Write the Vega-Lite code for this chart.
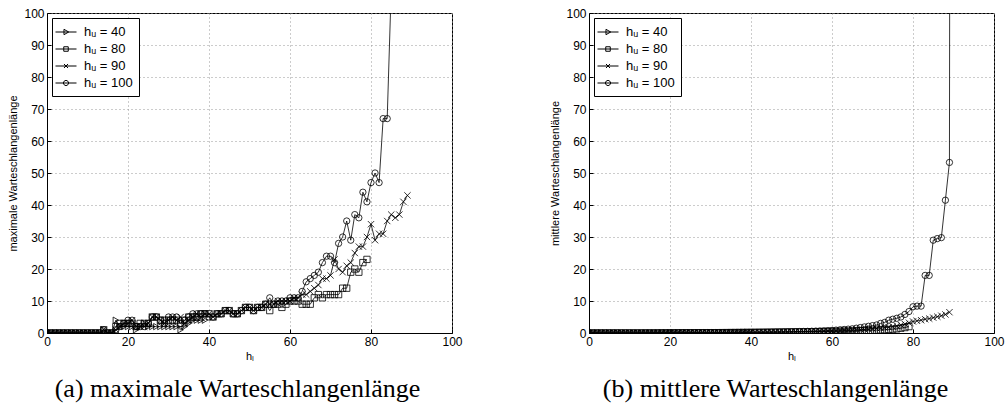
{
"$schema":"https://vega.github.io/schema/vega-lite/v6.json",
"padding":{"left":7,"top":6,"right":0,"bottom":5},
"background":"white",
"config":{"font":"Liberation Sans","view":{"stroke":"black","strokeWidth":1},
 "axis":{"grid":true,"gridColor":"#999","gridDash":[1,3],"gridOpacity":1,"domainColor":"black","tickColor":"black","labelColor":"black","titleColor":"black","labelFontSize":12,"titleFontSize":11,"titleFontWeight":"normal","tickSize":-4,"labelPadding":7,"labelFlush":false,"labelOverlap":false},
 "legend":{"labelFontSize":13,"labelColor":"black"},
 "title":{"font":"Liberation Serif","fontSize":26,"fontWeight":"normal","color":"black","orient":"bottom","anchor":"middle","offset":15}},
"spacing":86,
"datasets":{
"maxq":[
{"s":"40","x":0,"y":0},{"s":"40","x":1,"y":0},{"s":"40","x":2,"y":0},{"s":"40","x":3,"y":0},{"s":"40","x":4,"y":0},{"s":"40","x":5,"y":0},{"s":"40","x":6,"y":0},{"s":"40","x":7,"y":0},{"s":"40","x":8,"y":0},{"s":"40","x":9,"y":0},{"s":"40","x":10,"y":0},{"s":"40","x":11,"y":0},{"s":"40","x":12,"y":0},{"s":"40","x":13,"y":0},{"s":"40","x":14,"y":1},{"s":"40","x":15,"y":0},{"s":"40","x":16,"y":0},{"s":"40","x":17,"y":4},{"s":"40","x":18,"y":2},{"s":"40","x":19,"y":2},{"s":"40","x":20,"y":2},{"s":"40","x":21,"y":2},{"s":"40","x":22,"y":1},{"s":"40","x":23,"y":2},{"s":"40","x":24,"y":3},{"s":"40","x":25,"y":2},{"s":"40","x":26,"y":2},{"s":"40","x":27,"y":2},{"s":"40","x":28,"y":2},{"s":"40","x":29,"y":2},{"s":"40","x":30,"y":2},{"s":"40","x":31,"y":2},{"s":"40","x":32,"y":2},{"s":"40","x":33,"y":1},{"s":"40","x":34,"y":2},{"s":"40","x":35,"y":3},{"s":"40","x":36,"y":4},{"s":"40","x":37,"y":4},{"s":"40","x":38,"y":4},{"s":"40","x":39,"y":4},
{"s":"80","x":0,"y":0},{"s":"80","x":1,"y":0},{"s":"80","x":2,"y":0},{"s":"80","x":3,"y":0},{"s":"80","x":4,"y":0},{"s":"80","x":5,"y":0},{"s":"80","x":6,"y":0},{"s":"80","x":7,"y":0},{"s":"80","x":8,"y":0},{"s":"80","x":9,"y":0},{"s":"80","x":10,"y":0},{"s":"80","x":11,"y":0},{"s":"80","x":12,"y":0},{"s":"80","x":13,"y":0},{"s":"80","x":14,"y":1},{"s":"80","x":15,"y":0},{"s":"80","x":16,"y":0},{"s":"80","x":17,"y":2},{"s":"80","x":18,"y":3},{"s":"80","x":19,"y":3},{"s":"80","x":20,"y":3},{"s":"80","x":21,"y":3},{"s":"80","x":22,"y":2},{"s":"80","x":23,"y":3},{"s":"80","x":24,"y":3},{"s":"80","x":25,"y":3},{"s":"80","x":26,"y":5},{"s":"80","x":27,"y":5},{"s":"80","x":28,"y":4},{"s":"80","x":29,"y":4},{"s":"80","x":30,"y":4},{"s":"80","x":31,"y":4},{"s":"80","x":32,"y":4},{"s":"80","x":33,"y":3},{"s":"80","x":34,"y":4},{"s":"80","x":35,"y":5},{"s":"80","x":36,"y":5},{"s":"80","x":37,"y":5},{"s":"80","x":38,"y":6},{"s":"80","x":39,"y":6},{"s":"80","x":40,"y":6},{"s":"80","x":41,"y":5},{"s":"80","x":42,"y":6},{"s":"80","x":43,"y":6},{"s":"80","x":44,"y":7},{"s":"80","x":45,"y":7},{"s":"80","x":46,"y":6},{"s":"80","x":47,"y":6},{"s":"80","x":48,"y":7},{"s":"80","x":49,"y":8},{"s":"80","x":50,"y":8},{"s":"80","x":51,"y":7},{"s":"80","x":52,"y":8},{"s":"80","x":53,"y":8},{"s":"80","x":54,"y":9},{"s":"80","x":55,"y":7},{"s":"80","x":56,"y":9},{"s":"80","x":57,"y":9},{"s":"80","x":58,"y":8},{"s":"80","x":59,"y":9},{"s":"80","x":60,"y":10},{"s":"80","x":61,"y":10},{"s":"80","x":62,"y":10},{"s":"80","x":63,"y":9},{"s":"80","x":64,"y":9},{"s":"80","x":65,"y":9},{"s":"80","x":66,"y":11},{"s":"80","x":67,"y":12},{"s":"80","x":68,"y":11},{"s":"80","x":69,"y":12},{"s":"80","x":70,"y":12},{"s":"80","x":71,"y":12},{"s":"80","x":72,"y":12},{"s":"80","x":73,"y":14},{"s":"80","x":74,"y":14},{"s":"80","x":75,"y":19},{"s":"80","x":76,"y":20},{"s":"80","x":77,"y":19},{"s":"80","x":78,"y":22},{"s":"80","x":79,"y":23},
{"s":"90","x":0,"y":0},{"s":"90","x":1,"y":0},{"s":"90","x":2,"y":0},{"s":"90","x":3,"y":0},{"s":"90","x":4,"y":0},{"s":"90","x":5,"y":0},{"s":"90","x":6,"y":0},{"s":"90","x":7,"y":0},{"s":"90","x":8,"y":0},{"s":"90","x":9,"y":0},{"s":"90","x":10,"y":0},{"s":"90","x":11,"y":0},{"s":"90","x":12,"y":0},{"s":"90","x":13,"y":0},{"s":"90","x":14,"y":1},{"s":"90","x":15,"y":0},{"s":"90","x":16,"y":0},{"s":"90","x":17,"y":1},{"s":"90","x":18,"y":2},{"s":"90","x":19,"y":3},{"s":"90","x":20,"y":3},{"s":"90","x":21,"y":4},{"s":"90","x":22,"y":2},{"s":"90","x":23,"y":2},{"s":"90","x":24,"y":2},{"s":"90","x":25,"y":3},{"s":"90","x":26,"y":5},{"s":"90","x":27,"y":5},{"s":"90","x":28,"y":4},{"s":"90","x":29,"y":3},{"s":"90","x":30,"y":4},{"s":"90","x":31,"y":5},{"s":"90","x":32,"y":4},{"s":"90","x":33,"y":5},{"s":"90","x":34,"y":3},{"s":"90","x":35,"y":4},{"s":"90","x":36,"y":5},{"s":"90","x":37,"y":6},{"s":"90","x":38,"y":5},{"s":"90","x":39,"y":6},{"s":"90","x":40,"y":6},{"s":"90","x":41,"y":5},{"s":"90","x":42,"y":6},{"s":"90","x":43,"y":6},{"s":"90","x":44,"y":7},{"s":"90","x":45,"y":7},{"s":"90","x":46,"y":6},{"s":"90","x":47,"y":6},{"s":"90","x":48,"y":7},{"s":"90","x":49,"y":8},{"s":"90","x":50,"y":8},{"s":"90","x":51,"y":7},{"s":"90","x":52,"y":8},{"s":"90","x":53,"y":8},{"s":"90","x":54,"y":9},{"s":"90","x":55,"y":9},{"s":"90","x":56,"y":9},{"s":"90","x":57,"y":10},{"s":"90","x":58,"y":10},{"s":"90","x":59,"y":10},{"s":"90","x":60,"y":10},{"s":"90","x":61,"y":11},{"s":"90","x":62,"y":11},{"s":"90","x":63,"y":12},{"s":"90","x":64,"y":12},{"s":"90","x":65,"y":13},{"s":"90","x":66,"y":14},{"s":"90","x":67,"y":15},{"s":"90","x":68,"y":17},{"s":"90","x":69,"y":17},{"s":"90","x":70,"y":18},{"s":"90","x":71,"y":23},{"s":"90","x":72,"y":20},{"s":"90","x":73,"y":19},{"s":"90","x":74,"y":21},{"s":"90","x":75,"y":22},{"s":"90","x":76,"y":25},{"s":"90","x":77,"y":27},{"s":"90","x":78,"y":27},{"s":"90","x":79,"y":30},{"s":"90","x":80,"y":34},{"s":"90","x":81,"y":29},{"s":"90","x":82,"y":31},{"s":"90","x":83,"y":31},{"s":"90","x":84,"y":35},{"s":"90","x":85,"y":37},{"s":"90","x":86,"y":36},{"s":"90","x":87,"y":37},{"s":"90","x":88,"y":41},{"s":"90","x":89,"y":43},
{"s":"100","x":0,"y":0},{"s":"100","x":1,"y":0},{"s":"100","x":2,"y":0},{"s":"100","x":3,"y":0},{"s":"100","x":4,"y":0},{"s":"100","x":5,"y":0},{"s":"100","x":6,"y":0},{"s":"100","x":7,"y":0},{"s":"100","x":8,"y":0},{"s":"100","x":9,"y":0},{"s":"100","x":10,"y":0},{"s":"100","x":11,"y":0},{"s":"100","x":12,"y":0},{"s":"100","x":13,"y":0},{"s":"100","x":14,"y":1},{"s":"100","x":15,"y":0},{"s":"100","x":16,"y":0},{"s":"100","x":17,"y":1},{"s":"100","x":18,"y":2},{"s":"100","x":19,"y":3},{"s":"100","x":20,"y":4},{"s":"100","x":21,"y":4},{"s":"100","x":22,"y":2},{"s":"100","x":23,"y":2},{"s":"100","x":24,"y":2},{"s":"100","x":25,"y":3},{"s":"100","x":26,"y":5},{"s":"100","x":27,"y":5},{"s":"100","x":28,"y":4},{"s":"100","x":29,"y":3},{"s":"100","x":30,"y":5},{"s":"100","x":31,"y":5},{"s":"100","x":32,"y":5},{"s":"100","x":33,"y":3},{"s":"100","x":34,"y":4},{"s":"100","x":35,"y":5},{"s":"100","x":36,"y":6},{"s":"100","x":37,"y":6},{"s":"100","x":38,"y":6},{"s":"100","x":39,"y":6},{"s":"100","x":40,"y":5},{"s":"100","x":41,"y":5},{"s":"100","x":42,"y":6},{"s":"100","x":43,"y":6},{"s":"100","x":44,"y":7},{"s":"100","x":45,"y":7},{"s":"100","x":46,"y":6},{"s":"100","x":47,"y":6},{"s":"100","x":48,"y":7},{"s":"100","x":49,"y":8},{"s":"100","x":50,"y":8},{"s":"100","x":51,"y":7},{"s":"100","x":52,"y":8},{"s":"100","x":53,"y":8},{"s":"100","x":54,"y":9},{"s":"100","x":55,"y":11},{"s":"100","x":56,"y":9},{"s":"100","x":57,"y":10},{"s":"100","x":58,"y":10},{"s":"100","x":59,"y":10},{"s":"100","x":60,"y":11},{"s":"100","x":61,"y":11},{"s":"100","x":62,"y":11},{"s":"100","x":63,"y":13},{"s":"100","x":64,"y":16},{"s":"100","x":65,"y":17},{"s":"100","x":66,"y":18},{"s":"100","x":67,"y":19},{"s":"100","x":68,"y":22},{"s":"100","x":69,"y":24},{"s":"100","x":70,"y":24},{"s":"100","x":71,"y":22},{"s":"100","x":72,"y":28},{"s":"100","x":73,"y":30},{"s":"100","x":74,"y":35},{"s":"100","x":75,"y":29},{"s":"100","x":76,"y":37},{"s":"100","x":77,"y":36},{"s":"100","x":78,"y":44},{"s":"100","x":79,"y":41},{"s":"100","x":80,"y":47},{"s":"100","x":81,"y":50},{"s":"100","x":82,"y":47},{"s":"100","x":83,"y":67},{"s":"100","x":84,"y":67},{"s":"100","x":85,"y":108}
],
"meanq":[
{"s":"40","x":0,"y":0},{"s":"40","x":1,"y":0},{"s":"40","x":2,"y":0},{"s":"40","x":3,"y":0},{"s":"40","x":4,"y":0},{"s":"40","x":5,"y":0},{"s":"40","x":6,"y":0},{"s":"40","x":7,"y":0},{"s":"40","x":8,"y":0},{"s":"40","x":9,"y":0},{"s":"40","x":10,"y":0},{"s":"40","x":11,"y":0},{"s":"40","x":12,"y":0},{"s":"40","x":13,"y":0},{"s":"40","x":14,"y":0.01},{"s":"40","x":15,"y":0.01},{"s":"40","x":16,"y":0.01},{"s":"40","x":17,"y":0.02},{"s":"40","x":18,"y":0.03},{"s":"40","x":19,"y":0.03},{"s":"40","x":20,"y":0.04},{"s":"40","x":21,"y":0.04},{"s":"40","x":22,"y":0.05},{"s":"40","x":23,"y":0.05},{"s":"40","x":24,"y":0.06},{"s":"40","x":25,"y":0.06},{"s":"40","x":26,"y":0.07},{"s":"40","x":27,"y":0.08},{"s":"40","x":28,"y":0.08},{"s":"40","x":29,"y":0.09},{"s":"40","x":30,"y":0.1},{"s":"40","x":31,"y":0.1},{"s":"40","x":32,"y":0.11},{"s":"40","x":33,"y":0.12},{"s":"40","x":34,"y":0.13},{"s":"40","x":35,"y":0.14},{"s":"40","x":36,"y":0.15},{"s":"40","x":37,"y":0.16},{"s":"40","x":38,"y":0.18},{"s":"40","x":39,"y":0.2},
{"s":"80","x":0,"y":0},{"s":"80","x":1,"y":0},{"s":"80","x":2,"y":0},{"s":"80","x":3,"y":0},{"s":"80","x":4,"y":0},{"s":"80","x":5,"y":0},{"s":"80","x":6,"y":0},{"s":"80","x":7,"y":0},{"s":"80","x":8,"y":0},{"s":"80","x":9,"y":0},{"s":"80","x":10,"y":0},{"s":"80","x":11,"y":0},{"s":"80","x":12,"y":0},{"s":"80","x":13,"y":0},{"s":"80","x":14,"y":0.01},{"s":"80","x":15,"y":0.01},{"s":"80","x":16,"y":0.01},{"s":"80","x":17,"y":0.02},{"s":"80","x":18,"y":0.03},{"s":"80","x":19,"y":0.03},{"s":"80","x":20,"y":0.04},{"s":"80","x":21,"y":0.04},{"s":"80","x":22,"y":0.05},{"s":"80","x":23,"y":0.05},{"s":"80","x":24,"y":0.06},{"s":"80","x":25,"y":0.06},{"s":"80","x":26,"y":0.07},{"s":"80","x":27,"y":0.08},{"s":"80","x":28,"y":0.08},{"s":"80","x":29,"y":0.09},{"s":"80","x":30,"y":0.1},{"s":"80","x":31,"y":0.1},{"s":"80","x":32,"y":0.11},{"s":"80","x":33,"y":0.12},{"s":"80","x":34,"y":0.13},{"s":"80","x":35,"y":0.14},{"s":"80","x":36,"y":0.15},{"s":"80","x":37,"y":0.16},{"s":"80","x":38,"y":0.17},{"s":"80","x":39,"y":0.18},{"s":"80","x":40,"y":0.19},{"s":"80","x":41,"y":0.2},{"s":"80","x":42,"y":0.21},{"s":"80","x":43,"y":0.22},{"s":"80","x":44,"y":0.23},{"s":"80","x":45,"y":0.24},{"s":"80","x":46,"y":0.26},{"s":"80","x":47,"y":0.27},{"s":"80","x":48,"y":0.28},{"s":"80","x":49,"y":0.3},{"s":"80","x":50,"y":0.31},{"s":"80","x":51,"y":0.33},{"s":"80","x":52,"y":0.34},{"s":"80","x":53,"y":0.36},{"s":"80","x":54,"y":0.38},{"s":"80","x":55,"y":0.4},{"s":"80","x":56,"y":0.42},{"s":"80","x":57,"y":0.44},{"s":"80","x":58,"y":0.46},{"s":"80","x":59,"y":0.48},{"s":"80","x":60,"y":0.5},{"s":"80","x":61,"y":0.52},{"s":"80","x":62,"y":0.55},{"s":"80","x":63,"y":0.58},{"s":"80","x":64,"y":0.6},{"s":"80","x":65,"y":0.65},{"s":"80","x":66,"y":0.68},{"s":"80","x":67,"y":0.72},{"s":"80","x":68,"y":0.76},{"s":"80","x":69,"y":0.8},{"s":"80","x":70,"y":0.85},{"s":"80","x":71,"y":0.9},{"s":"80","x":72,"y":0.95},{"s":"80","x":73,"y":1.0},{"s":"80","x":74,"y":1.1},{"s":"80","x":75,"y":1.2},{"s":"80","x":76,"y":1.3},{"s":"80","x":77,"y":1.5},{"s":"80","x":78,"y":1.7},{"s":"80","x":79,"y":2.0},
{"s":"90","x":0,"y":0},{"s":"90","x":1,"y":0},{"s":"90","x":2,"y":0},{"s":"90","x":3,"y":0},{"s":"90","x":4,"y":0},{"s":"90","x":5,"y":0},{"s":"90","x":6,"y":0},{"s":"90","x":7,"y":0},{"s":"90","x":8,"y":0},{"s":"90","x":9,"y":0},{"s":"90","x":10,"y":0},{"s":"90","x":11,"y":0},{"s":"90","x":12,"y":0},{"s":"90","x":13,"y":0},{"s":"90","x":14,"y":0.01},{"s":"90","x":15,"y":0.01},{"s":"90","x":16,"y":0.01},{"s":"90","x":17,"y":0.02},{"s":"90","x":18,"y":0.03},{"s":"90","x":19,"y":0.03},{"s":"90","x":20,"y":0.04},{"s":"90","x":21,"y":0.04},{"s":"90","x":22,"y":0.05},{"s":"90","x":23,"y":0.05},{"s":"90","x":24,"y":0.06},{"s":"90","x":25,"y":0.06},{"s":"90","x":26,"y":0.07},{"s":"90","x":27,"y":0.08},{"s":"90","x":28,"y":0.08},{"s":"90","x":29,"y":0.09},{"s":"90","x":30,"y":0.1},{"s":"90","x":31,"y":0.1},{"s":"90","x":32,"y":0.11},{"s":"90","x":33,"y":0.12},{"s":"90","x":34,"y":0.13},{"s":"90","x":35,"y":0.14},{"s":"90","x":36,"y":0.15},{"s":"90","x":37,"y":0.16},{"s":"90","x":38,"y":0.17},{"s":"90","x":39,"y":0.19},{"s":"90","x":40,"y":0.2},{"s":"90","x":41,"y":0.21},{"s":"90","x":42,"y":0.22},{"s":"90","x":43,"y":0.23},{"s":"90","x":44,"y":0.25},{"s":"90","x":45,"y":0.26},{"s":"90","x":46,"y":0.28},{"s":"90","x":47,"y":0.29},{"s":"90","x":48,"y":0.31},{"s":"90","x":49,"y":0.33},{"s":"90","x":50,"y":0.35},{"s":"90","x":51,"y":0.37},{"s":"90","x":52,"y":0.39},{"s":"90","x":53,"y":0.41},{"s":"90","x":54,"y":0.43},{"s":"90","x":55,"y":0.45},{"s":"90","x":56,"y":0.48},{"s":"90","x":57,"y":0.51},{"s":"90","x":58,"y":0.54},{"s":"90","x":59,"y":0.57},{"s":"90","x":60,"y":0.6},{"s":"90","x":61,"y":0.65},{"s":"90","x":62,"y":0.7},{"s":"90","x":63,"y":0.75},{"s":"90","x":64,"y":0.8},{"s":"90","x":65,"y":0.88},{"s":"90","x":66,"y":0.95},{"s":"90","x":67,"y":1.02},{"s":"90","x":68,"y":1.1},{"s":"90","x":69,"y":1.2},{"s":"90","x":70,"y":1.3},{"s":"90","x":71,"y":1.4},{"s":"90","x":72,"y":1.5},{"s":"90","x":73,"y":1.65},{"s":"90","x":74,"y":1.8},{"s":"90","x":75,"y":2.0},{"s":"90","x":76,"y":2.2},{"s":"90","x":77,"y":2.5},{"s":"90","x":78,"y":2.8},{"s":"90","x":79,"y":3.2},{"s":"90","x":80,"y":3.6},{"s":"90","x":81,"y":3.8},{"s":"90","x":82,"y":4.0},{"s":"90","x":83,"y":4.3},{"s":"90","x":84,"y":4.5},{"s":"90","x":85,"y":4.8},{"s":"90","x":86,"y":5.1},{"s":"90","x":87,"y":5.4},{"s":"90","x":88,"y":5.8},{"s":"90","x":89,"y":6.5},
{"s":"100","x":0,"y":0},{"s":"100","x":1,"y":0},{"s":"100","x":2,"y":0},{"s":"100","x":3,"y":0},{"s":"100","x":4,"y":0},{"s":"100","x":5,"y":0},{"s":"100","x":6,"y":0},{"s":"100","x":7,"y":0},{"s":"100","x":8,"y":0},{"s":"100","x":9,"y":0},{"s":"100","x":10,"y":0},{"s":"100","x":11,"y":0},{"s":"100","x":12,"y":0},{"s":"100","x":13,"y":0},{"s":"100","x":14,"y":0.01},{"s":"100","x":15,"y":0.01},{"s":"100","x":16,"y":0.01},{"s":"100","x":17,"y":0.02},{"s":"100","x":18,"y":0.03},{"s":"100","x":19,"y":0.03},{"s":"100","x":20,"y":0.04},{"s":"100","x":21,"y":0.04},{"s":"100","x":22,"y":0.05},{"s":"100","x":23,"y":0.05},{"s":"100","x":24,"y":0.06},{"s":"100","x":25,"y":0.06},{"s":"100","x":26,"y":0.07},{"s":"100","x":27,"y":0.08},{"s":"100","x":28,"y":0.08},{"s":"100","x":29,"y":0.09},{"s":"100","x":30,"y":0.1},{"s":"100","x":31,"y":0.1},{"s":"100","x":32,"y":0.11},{"s":"100","x":33,"y":0.12},{"s":"100","x":34,"y":0.13},{"s":"100","x":35,"y":0.14},{"s":"100","x":36,"y":0.15},{"s":"100","x":37,"y":0.17},{"s":"100","x":38,"y":0.18},{"s":"100","x":39,"y":0.2},{"s":"100","x":40,"y":0.21},{"s":"100","x":41,"y":0.22},{"s":"100","x":42,"y":0.24},{"s":"100","x":43,"y":0.25},{"s":"100","x":44,"y":0.27},{"s":"100","x":45,"y":0.29},{"s":"100","x":46,"y":0.31},{"s":"100","x":47,"y":0.33},{"s":"100","x":48,"y":0.35},{"s":"100","x":49,"y":0.37},{"s":"100","x":50,"y":0.4},{"s":"100","x":51,"y":0.42},{"s":"100","x":52,"y":0.45},{"s":"100","x":53,"y":0.48},{"s":"100","x":54,"y":0.51},{"s":"100","x":55,"y":0.55},{"s":"100","x":56,"y":0.59},{"s":"100","x":57,"y":0.63},{"s":"100","x":58,"y":0.68},{"s":"100","x":59,"y":0.74},{"s":"100","x":60,"y":0.8},{"s":"100","x":61,"y":0.9},{"s":"100","x":62,"y":1.0},{"s":"100","x":63,"y":1.1},{"s":"100","x":64,"y":1.2},{"s":"100","x":65,"y":1.3},{"s":"100","x":66,"y":1.5},{"s":"100","x":67,"y":1.7},{"s":"100","x":68,"y":1.9},{"s":"100","x":69,"y":2.1},{"s":"100","x":70,"y":2.3},{"s":"100","x":71,"y":2.5},{"s":"100","x":72,"y":3.0},{"s":"100","x":73,"y":3.3},{"s":"100","x":74,"y":4.0},{"s":"100","x":75,"y":4.3},{"s":"100","x":76,"y":4.6},{"s":"100","x":77,"y":5.0},{"s":"100","x":78,"y":5.8},{"s":"100","x":79,"y":6.7},{"s":"100","x":80,"y":8.2},{"s":"100","x":81,"y":8.4},{"s":"100","x":82,"y":8.4},{"s":"100","x":83,"y":18},{"s":"100","x":84,"y":18},{"s":"100","x":85,"y":29},{"s":"100","x":86,"y":29.5},{"s":"100","x":87,"y":29.8},{"s":"100","x":88,"y":41.5},{"s":"100","x":89,"y":53.3},{"s":"100","x":90,"y":1000}
]},
"hconcat":[
{"width":405,"height":320,
 "data":{"name":"maxq"},
 "title":{"text":"(a) maximale Warteschlangenlänge","dx":-12},
 "encoding":{
  "x":{"field":"x","type":"quantitative","scale":{"domain":[0,100],"nice":false},"axis":{"values":[0,20,40,60,80,100],"title":"hₗ","titlePadding":3}},
  "y":{"field":"y","type":"quantitative","scale":{"domain":[0,100],"nice":false},"axis":{"values":[0,10,20,30,40,50,60,70,80,90,100],"title":"maximale Warteschlangenlänge","titlePadding":5}}
 },
 "layer":[
  {"mark":{"type":"line","color":"black","strokeWidth":0.8,"clip":true},"encoding":{"detail":{"field":"s"}}},
  {"mark":{"type":"point","filled":false,"color":"black","strokeWidth":0.8,"size":40,"opacity":1,"clip":true},
   "encoding":{"shape":{"field":"s","type":"nominal",
     "scale":{"domain":["40","80","90","100"],"range":["triangle-right","square","M-1,-1L1,1M-1,1L1,-1","circle"]},
     "legend":null}}},
  {"mark":{"type":"point","filled":false,"color":"black","strokeWidth":1,"size":225,"opacity":0,"clip":true},
   "encoding":{"shape":{"field":"s","type":"nominal",
     "scale":{"domain":["40","80","90","100"],"range":["M-1.4,0L1.4,0M-0.27,-0.36L0.36,0L-0.27,0.36Z","M-1.4,0L1.4,0M-0.3,-0.3L0.3,-0.3L0.3,0.3L-0.3,0.3Z","M-1.4,0L1.4,0M-0.27,-0.27L0.27,0.27M-0.27,0.27L0.27,-0.27","M-1.4,0L1.4,0M0.34,0A0.34,0.34 0 1,1 -0.34,0A0.34,0.34 0 1,1 0.34,0Z"]},
     "legend":{"title":null,"orient":"top-left","offset":5,"padding":6,"strokeColor":"black","fillColor":"white","symbolSize":225,"symbolOpacity":1,"symbolStrokeWidth":1,"symbolStrokeColor":"black","labelOffset":10,"rowPadding":2,"labelExpr":"'hᵤ = ' + datum.label"}}}}
 ],
 "resolve":{"scale":{"shape":"independent"},"legend":{"shape":"independent"}}},
{"width":405,"height":320,
 "data":{"name":"meanq"},
 "title":{"text":"(b) mittlere Warteschlangenlänge","dx":-16},
 "encoding":{
  "x":{"field":"x","type":"quantitative","scale":{"domain":[0,100],"nice":false},"axis":{"values":[0,20,40,60,80,100],"title":"hₗ","titlePadding":3}},
  "y":{"field":"y","type":"quantitative","scale":{"domain":[0,100],"nice":false},"axis":{"values":[0,10,20,30,40,50,60,70,80,90,100],"title":"mittlere Warteschlangenlänge","titlePadding":5}}
 },
 "layer":[
  {"mark":{"type":"line","color":"black","strokeWidth":0.8,"clip":true},"encoding":{"detail":{"field":"s"}}},
  {"mark":{"type":"point","filled":false,"color":"black","strokeWidth":0.8,"size":40,"opacity":1,"clip":true},
   "encoding":{"shape":{"field":"s","type":"nominal",
     "scale":{"domain":["40","80","90","100"],"range":["triangle-right","square","M-1,-1L1,1M-1,1L1,-1","circle"]},
     "legend":null}}},
  {"mark":{"type":"point","filled":false,"color":"black","strokeWidth":1,"size":225,"opacity":0,"clip":true},
   "encoding":{"shape":{"field":"s","type":"nominal",
     "scale":{"domain":["40","80","90","100"],"range":["M-1.4,0L1.4,0M-0.27,-0.36L0.36,0L-0.27,0.36Z","M-1.4,0L1.4,0M-0.3,-0.3L0.3,-0.3L0.3,0.3L-0.3,0.3Z","M-1.4,0L1.4,0M-0.27,-0.27L0.27,0.27M-0.27,0.27L0.27,-0.27","M-1.4,0L1.4,0M0.34,0A0.34,0.34 0 1,1 -0.34,0A0.34,0.34 0 1,1 0.34,0Z"]},
     "legend":{"title":null,"orient":"top-left","offset":5,"padding":6,"strokeColor":"black","fillColor":"white","symbolSize":225,"symbolOpacity":1,"symbolStrokeWidth":1,"symbolStrokeColor":"black","labelOffset":10,"rowPadding":2,"labelExpr":"'hᵤ = ' + datum.label"}}}}
 ],
 "resolve":{"scale":{"shape":"independent"},"legend":{"shape":"independent"}}}
]
}
